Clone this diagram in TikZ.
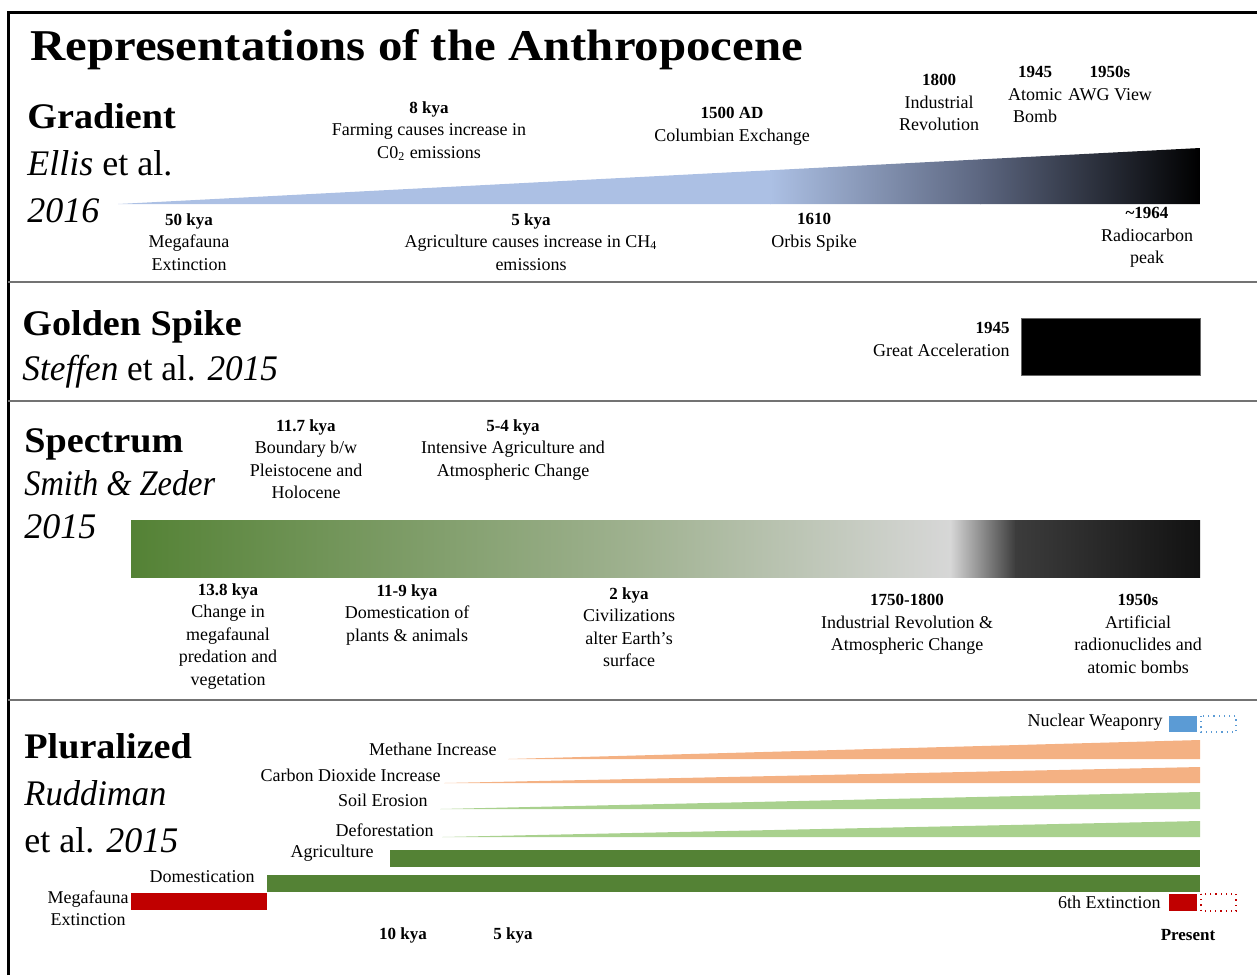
\documentclass[tikz,border=0pt]{standalone}
\usepackage{fontspec}
\setmainfont{Liberation Serif}
\definecolor{gblue}{RGB}{172,192,228}
\definecolor{gmid}{RGB}{92,102,128}
\definecolor{sg1}{RGB}{84,130,53}
\definecolor{sg2}{RGB}{160,178,145}
\definecolor{sg3}{RGB}{215,215,215}
\definecolor{sg4}{RGB}{60,60,60}
\definecolor{sg5}{RGB}{18,18,18}
\definecolor{orng}{RGB}{244,177,131}
\definecolor{lgreen}{RGB}{169,209,142}
\definecolor{dgreen}{RGB}{84,130,53}
\definecolor{dred}{RGB}{192,0,0}
\definecolor{nblue}{RGB}{91,155,213}
\newcommand\yrb[1]{{\fontsize{8.5}{11.25}\selectfont\bfseries #1}}
\tikzset{
  lab/.style={font=\fontsize{9}{11.25}\selectfont, align=center, inner sep=0pt, anchor=north},
  labr/.style={lab, align=right, anchor=north east},
  side/.style={font=\fontsize{9}{11}\selectfont, inner sep=0pt, anchor=east},
  head/.style={font=\fontsize{18}{20}\selectfont\addfontfeatures{FakeStretch=1.06}\bfseries, inner sep=0pt, anchor=base west},
  cite/.style={font=\fontsize{18}{20}\selectfont, inner sep=0pt, anchor=base west},
  tick/.style={font=\fontsize{8.5}{10}\selectfont\bfseries, inner sep=0pt},
  sepline/.style={draw=black!55, line width=0.75pt},
}
\begin{document}
\begin{tikzpicture}[x=0.5pt, y=-0.5pt]
\useasboundingbox (0,0) rectangle (1257,975);
% frame
\draw[line width=1.5pt] (8,975) -- (8,12) -- (1257,12);
\draw[sepline] (8,282) -- (1257,282);
\draw[sepline] (8,401) -- (1257,401);
\draw[sepline] (8,700) -- (1257,700);

% title
\node[font=\fontsize{22}{24}\selectfont\addfontfeatures{FakeStretch=1.11}\bfseries, inner sep=0pt, anchor=base west] (title) at (30,60) {Representations of the Anthropocene};

% ---------------- Gradient
\node[head] (gradH) at (27,128) {Gradient};
\node[cite] (gradC) at (27,175) {\textit{Ellis} et al.};
\node[cite] (gradY) at (27,222) {\textit{2016}};
\begin{scope}
  \clip (118,204) -- (1200,148) -- (1200,204) -- cycle;
  \fill[gblue] (110,140) rectangle (771,210);
  \shade[left color=gblue, right color=gmid] (770,140) rectangle (981,210);
  \shade[left color=gmid, right color=black] (980,140) rectangle (1200,210);
\end{scope}
\node[lab] (g8) at (429,101) {\yrb{8 kya}\\Farming causes increase in\\C0\textsubscript{2} emissions};
\node[lab] (g1500) at (732,107) {\yrb{1500 AD}\\Columbian Exchange};
\node[lab] (g1800) at (939,74) {\yrb{1800}\\Industrial\\Revolution};
\node[lab] (g1945) at (1035,66) {\yrb{1945}\\Atomic\\Bomb};
\node[lab] (g1950) at (1110,66) {\yrb{1950s}\\AWG View};
\node[lab] (g50) at (189,213) {\yrb{50 kya}\\Megafauna\\Extinction};
\node[lab] (g5) at (531,213) {\yrb{5 kya}\\Agriculture causes increase in CH\textsubscript{4}\\emissions};
\node[lab] (g1610) at (814,213) {\yrb{1610}\\Orbis Spike};
\node[lab] (g1964) at (1147,207) {\yrb{\textasciitilde1964}\\Radiocarbon\\peak};

% ---------------- Golden Spike
\node[head] (gsH) at (22,335) {Golden Spike};
\node[cite] (gsC) at (22,380) {\addfontfeatures{FakeStretch=0.98}\textit{Steffen} et al. \textit{2015}};
\fill[black, draw=black!60, line width=0.4pt] (1021,318) rectangle (1200,375);
\node[labr] (gs1945) at (1010,322) {\yrb{1945}\\Great Acceleration};

% ---------------- Spectrum
\node[head] (spH) at (24,452) {Spectrum};
\node[cite] (spC) at (24,495) {\addfontfeatures{FakeStretch=0.9}\textit{Smith \& Zeder}};
\node[cite] (spY) at (24,538) {\textit{2015}};
\shade[left color=sg1, right color=sg2] (131,520) rectangle (641,577);
\shade[left color=sg2, right color=sg3] (640,520) rectangle (951,577);
\shade[left color=sg3, right color=sg4] (950,520) rectangle (1016,577);
\shade[left color=sg4, right color=sg5] (1015,520) rectangle (1200,577);
\node[lab] (s117) at (306,419) {\yrb{11.7 kya}\\Boundary b/w\\Pleistocene and\\Holocene};
\node[lab] (s54) at (513,419) {\yrb{5-4 kya}\\Intensive Agriculture and\\Atmospheric Change};
\node[lab] (s138) at (228,583) {\yrb{13.8 kya}\\Change in\\megafaunal\\predation and\\vegetation};
\node[lab] (s119) at (407,584) {\yrb{11-9 kya}\\Domestication of\\plants \& animals};
\node[lab] (s2) at (629,587) {\yrb{2 kya}\\Civilizations\\alter Earth’s\\surface};
\node[lab] (s1750) at (907,594) {\yrb{1750-1800}\\Industrial Revolution \&\\Atmospheric Change};
\node[lab] (s1950) at (1138,594) {\yrb{1950s}\\Artificial\\radionuclides and\\atomic bombs};

% ---------------- Pluralized
\node[head] (plH) at (24,758) {Pluralized};
\node[cite] (plC) at (24,805) {\addfontfeatures{FakeStretch=0.96}\textit{Ruddiman}};
\node[cite] (plY) at (24,852) {et al. \textit{2015}};

\fill[orng] (508,759) -- (1200,740) -- (1200,759) -- cycle;
\fill[orng] (444,783) -- (1200,767) -- (1200,783) -- cycle;
\fill[lgreen] (440,809) -- (1200,792) -- (1200,809) -- cycle;
\fill[lgreen] (442,837) -- (1200,821) -- (1200,837) -- cycle;
\fill[dgreen] (390,850) rectangle (1200,867);
\fill[dgreen] (267,875) rectangle (1200,892);
\fill[dred] (131,893) rectangle (267,910);
\fill[nblue] (1169,716) rectangle (1197,732);
\draw[nblue, dotted, line width=0.6pt] (1201,716) rectangle (1236,732);
\fill[dred] (1169,894) rectangle (1197,911);
\draw[dred, dotted, line width=0.6pt] (1201,894) rectangle (1236,911);

\node[side] (pMeth) at (497,749) {Methane Increase};
\node[side] (pCO2) at (441,775) {Carbon Dioxide Increase};
\node[side] (pSoil) at (428,800) {Soil Erosion};
\node[side] (pDef) at (434,830) {Deforestation};
\node[side] (pAgr) at (374,853) {Agriculture};
\node[side] (pDom) at (255,877) {Domestication};
\node[lab, anchor=north east] (pMeg) at (129,890) {Megafauna\\Extinction};
\node[side] (pNuc) at (1163,722) {Nuclear Weaponry};
\node[side] (p6th) at (1161,902) {6th Extinction};
\node[tick] (t10) at (403,935) {10 kya};
\node[tick] (t5) at (513,935) {5 kya};
\node[tick] (tP) at (1188,935) {Present};
\end{tikzpicture}
\end{document}
